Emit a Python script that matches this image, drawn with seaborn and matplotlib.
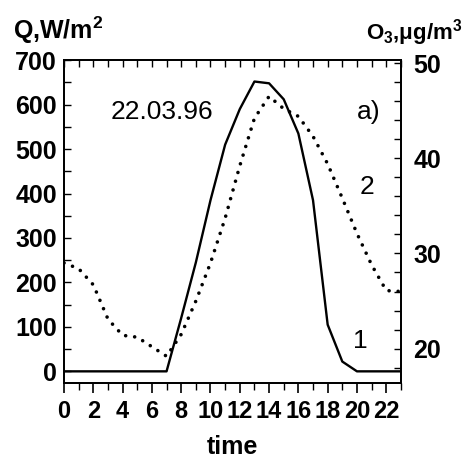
import numpy as np
import pandas as pd
import seaborn as sns
import matplotlib
matplotlib.use('Agg')
import matplotlib.pyplot as plt
from matplotlib.ticker import MultipleLocator

# hourly values
hours = list(range(24))
q_flux = [0, 0, 0, 0, 0, 0, 0, 0, 120, 245, 385, 510, 590, 652,
          648, 612, 535, 385, 105, 22, 0, 0, 0, 0]
o3 = [29.0, 28.4, 26.7, 23.1, 21.4, 21.2, 20.2, 19.2, 21.5, 25.0, 29.0, 33.7,
      39.2, 44.2, 46.5, 45.2, 44.4, 42.3, 39.4, 35.8, 32.1, 28.8, 26.1, 26.0]
x_ticks = list(range(0, 23, 2))

df = pd.DataFrame({'time': hours, 'Q': q_flux, 'O3': o3})

sns.set_style('ticks')
plt.rcParams['font.family'] = ['Liberation Sans', 'DejaVu Sans']
plt.rcParams['mathtext.fontset'] = 'custom'
plt.rcParams['mathtext.rm'] = 'Liberation Sans'
plt.rcParams['mathtext.it'] = 'Liberation Sans:italic'
plt.rcParams['mathtext.bf'] = 'Liberation Sans:bold'
for k in ['text.color', 'axes.labelcolor', 'xtick.color', 'ytick.color', 'axes.edgecolor']:
    plt.rcParams[k] = 'black'

fig = plt.figure(figsize=(4.64, 4.63), dpi=100)
ax = fig.add_axes([0.138, 0.173, 0.726, 0.697])
ax2 = ax.twinx()

sns.lineplot(data=df, x='time', y='Q', ax=ax, color='black', linewidth=1.7)
sns.lineplot(data=df, x='time', y='O3', ax=ax2, color='black', linewidth=2.6,
             linestyle=(0, (0.01, 2.5)), dash_capstyle='round')

ax.set_xlim(0, 23)
ax.set_ylim(-26, 700)
ax2.set_ylim(16.4, 50.3)

ax.set_xticks(x_ticks)
ax.xaxis.set_minor_locator(MultipleLocator(1))
ax.yaxis.set_major_locator(MultipleLocator(100))
ax.yaxis.set_minor_locator(MultipleLocator(50))
ax2.yaxis.set_major_locator(MultipleLocator(10))
ax2.yaxis.set_minor_locator(MultipleLocator(2))

ax.tick_params(axis='x', which='both', direction='out', bottom=True, top=False,
               labelsize=17, pad=5)
ax.tick_params(axis='x', which='major', length=7, width=1.2)
ax.tick_params(axis='x', which='minor', length=5, width=1.0)
ax.tick_params(axis='y', which='both', direction='in', length=5, width=1.0,
               labelsize=18, pad=5)
ax2.tick_params(axis='y', which='both', direction='in', length=5, width=1.0,
                labelsize=18, pad=9)
ax2.tick_params(axis='x', which='both', top=True, direction='in')

for lab in ax.get_xticklabels() + ax.get_yticklabels() + ax2.get_yticklabels():
    lab.set_fontweight('bold')

# top ticks every hour
sec = ax.secondary_xaxis('top')
sec.set_xticks(range(24))
sec.tick_params(direction='in', length=5, width=1.0, labeltop=False)
sec.spines['top'].set_visible(False)

for a in (ax, ax2):
    for s in a.spines.values():
        s.set_linewidth(1.3)
        s.set_visible(True)

ax.set_xlabel('time', fontsize=18, fontweight='bold', labelpad=9)
ax.set_ylabel('')
ax2.set_ylabel('')

fig.text(0.027, 0.935, r'Q,W/m$\mathbf{^2}$', fontsize=18, fontweight='bold',
         ha='left', va='center')
fig.text(0.996, 0.93, r'O$_\mathbf{3}$,μg/m$\mathbf{^3}$', fontsize=16,
         fontweight='bold', ha='right', va='center')

ax.text(6.7, 583, '22.03.96', fontsize=19, ha='center', va='center')
ax.text(20.8, 583, 'a)', fontsize=19, ha='center', va='center')
ax.text(20.7, 415, '2', fontsize=19, ha='center', va='center')
ax.text(20.2, 68, '1', fontsize=19, ha='center', va='center')

fig.savefig('out.png', dpi=100)
